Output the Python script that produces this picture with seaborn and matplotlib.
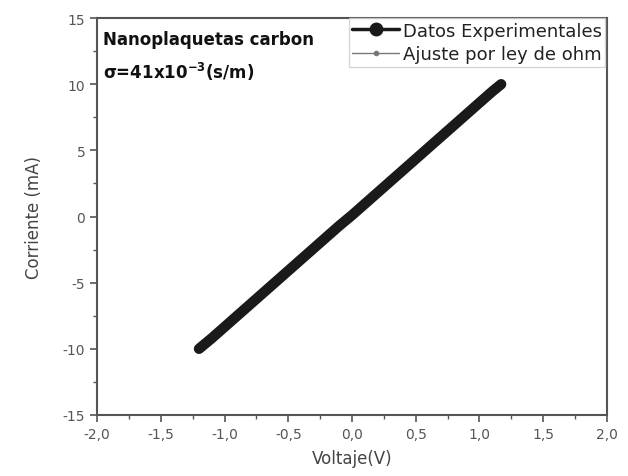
import matplotlib
matplotlib.use("Agg")
import matplotlib.pyplot as plt
from matplotlib.lines import Line2D
from matplotlib.ticker import MultipleLocator, FuncFormatter
import seaborn as sns
import pandas as pd

# Data
voltaje = [-1.20, -1.10, -1.00, -0.90, -0.80, -0.70, -0.60, -0.50, -0.40, -0.30,
           -0.20, -0.10, 0.00, 0.10, 0.20, 0.30, 0.40, 0.50, 0.60, 0.70,
           0.80, 0.90, 1.00, 1.10, 1.17]
corriente = [-10.0, -9.2, -8.35, -7.5, -6.65, -5.8, -4.95, -4.1, -3.25, -2.4,
             -1.55, -0.7, 0.1, 0.95, 1.8, 2.65, 3.5, 4.35, 5.2, 6.05,
             6.9, 7.75, 8.6, 9.45, 10.0]
voltaje_ajuste = [-1.20, -0.60, 0.00, 0.60, 1.17]
corriente_ajuste = [-10.0, -4.95, 0.1, 5.2, 10.0]

x_ticks = [-2.0, -1.5, -1.0, -0.5, 0.0, 0.5, 1.0, 1.5, 2.0]
y_ticks = [-15, -10, -5, 0, 5, 10, 15]
label_exp = "Datos Experimentales"
label_fit = "Ajuste por ley de ohm"

sns.set_style("white")
plt.rcParams['font.family'] = ['DejaVu Sans']
plt.rcParams['mathtext.fontset'] = 'custom'
plt.rcParams['mathtext.rm'] = 'DejaVu Sans'
plt.rcParams['mathtext.bf'] = 'DejaVu Sans:bold'

df_exp = pd.DataFrame({"V": voltaje, "I": corriente})
df_fit = pd.DataFrame({"V": voltaje_ajuste, "I": corriente_ajuste})

fig = plt.figure(figsize=(6.28, 4.77), dpi=100)
ax = fig.add_axes([0.1545, 0.128, 0.812, 0.832])

sns.lineplot(data=df_fit, x="V", y="I", ax=ax, color="#777777", lw=1.0,
             marker="o", markersize=3, zorder=2, sort=False)
sns.lineplot(data=df_exp, x="V", y="I", ax=ax, color="#1a1a1a", lw=7.5,
             zorder=3, sort=False, solid_capstyle="round",
             solid_joinstyle="round")

ax.set_xlim(-2, 2)
ax.set_ylim(-15, 15)
ax.set_xticks(x_ticks)
ax.set_yticks(y_ticks)
ax.xaxis.set_minor_locator(MultipleLocator(0.25))
ax.yaxis.set_minor_locator(MultipleLocator(2.5))
ax.xaxis.set_major_formatter(FuncFormatter(lambda v, p: f"{v:.1f}".replace(".", ",")))
ax.yaxis.set_major_formatter(FuncFormatter(lambda v, p: f"{int(round(v))}"))

for s in ax.spines.values():
    s.set_color("#555555")
    s.set_linewidth(1.5)

ax.tick_params(axis="both", which="major", direction="out", length=5, width=1.2,
               color="#555555", labelsize=10, labelcolor="#555555",
               bottom=True, left=True, top=False, right=False)
ax.tick_params(axis="both", which="minor", direction="out", length=3, width=1.0,
               color="#555555", bottom=True, left=True, top=False, right=False)

ax.set_xlabel("Voltaje(V)", fontsize=12, color="#444444", labelpad=6)
ax.set_ylabel("Corriente (mA)", fontsize=12, color="#444444", labelpad=14)

ax.text(0.012, 0.97, "Nanoplaquetas carbon", transform=ax.transAxes,
        fontsize=12, fontweight="bold", color="#111111", va="top", ha="left")
ax.text(0.012, 0.895, r"σ=41x10$^{\mathbf{-3}}$(s/m)", transform=ax.transAxes,
        fontsize=12, fontweight="bold", color="#111111", va="top", ha="left")

handles = [
    Line2D([0], [0], color="#1a1a1a", lw=2.5, marker="o", markersize=9),
    Line2D([0], [0], color="#777777", lw=1.0, marker="o", markersize=3),
]
leg = ax.legend(handles, [label_exp, label_fit], loc="upper right",
                bbox_to_anchor=(0.997, 1.0), fontsize=13, frameon=True,
                fancybox=False, edgecolor="#cccccc", handlelength=2.6,
                handletextpad=0.2, borderpad=0.2, labelspacing=0.3,
                borderaxespad=0.0)
leg.get_frame().set_linewidth(1.0)
for t in leg.get_texts():
    t.set_color("#222222")

fig.savefig("out.png", dpi=100, facecolor="white")
